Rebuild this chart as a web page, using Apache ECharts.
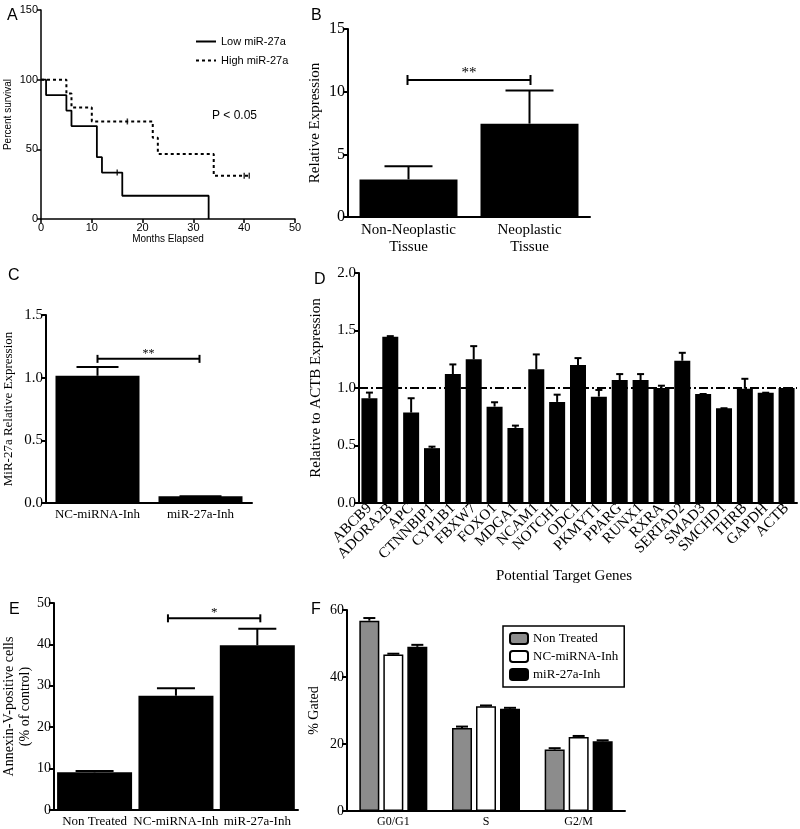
<!DOCTYPE html>
<html><head><meta charset="utf-8">
<script src="https://cdn.jsdelivr.net/npm/echarts@6/dist/echarts.min.js"></script>
<style>html,body{margin:0;padding:0;background:#fff}#c{width:800px;height:829px}</style>
</head><body><div id="c"></div>
<script>
// ---------- Panel A : survival ----------
const lowTimes = [0, 1, 5, 6, 11, 12, 16, 33];
const lowSurv = [100, 88.9, 77.8, 66.7, 44.4, 33.3, 16.7, 0];
const lowCensorTimes = [15];
const lowCensorSurv = [33.3];
const highTimes = [0, 5, 6, 10, 22, 23, 34, 41];
const highSurv = [100, 90, 80, 70, 58.3, 46.7, 31.1, 31.1];
const highCensorTimes = [17, 40, 41];
const highCensorSurv = [70, 31.1, 31.1];

// ---------- Panel B ----------
const bCats = ['Non-Neoplastic\nTissue', 'Neoplastic\nTissue'];
const bMeans = [3.0, 7.45];
const bErr = [1.05, 2.65];
const bSig = [0, 1, 10.93];

// ---------- Panel C ----------
const cCats = ['NC-miRNA-Inh', 'miR-27a-Inh'];
const cMeans = [1.015, 0.053];
const cErr = [0.07, 0];
const cSig = [0, 1, 1.15];

// ---------- Panel D ----------
const dCats = ['ABCB9','ADORA2B','APC','CTNNBIP1','CYP1B1','FBXW7','FOXO1','MDGA1','NCAM1','NOTCH1','ODC1','PKMYT1','PPARG','RUNX1','RXRA','SERTAD2','SMAD3','SMCHD1','THRB','GAPDH','ACTB'];
const dMeans = [0.91,1.445,0.786,0.477,1.121,1.249,0.838,0.653,1.162,0.879,1.20,0.925,1.069,1.069,1.0,1.237,0.948,0.824,0.994,0.959,1.0];
const dErr =   [0.05,0.006,0.125,0.013,0.084,0.115,0.038,0.02,0.13,0.063,0.06,0.058,0.052,0.052,0.02,0.069,0,0,0.086,0,0];
const dRef = 1.0;

// ---------- Panel E ----------
const eCats = ['Non Treated', 'NC-miRNA-Inh', 'miR-27a-Inh'];
const eMeans = [9.1, 27.6, 39.8];
const eErr = [0.3, 1.8, 4.0];
const eSig = [1, 2, 46.3];

// ---------- Panel F ----------
const fCats = ['G0/G1', 'S', 'G2/M'];
const fNames = ['Non Treated', 'NC-miRNA-Inh', 'miR-27a-Inh'];
const fNonTreated = [56.8, 24.8, 18.35];
const fNonTreatedErr = [0.8, 0.4, 0.4];
const fNC = [46.75, 31.3, 22.1];
const fNCErr = [0.2, 0.2, 0.3];
const fMiR = [49.0, 30.5, 20.8];
const fMiRErr = [0.6, 0.3, 0.3];

// ---------- helpers ----------
const SERIF = 'Liberation Serif';
const SANS = 'Liberation Sans';
const BLK = '#000';

function valAxis(g, min, max, interval, font, size, name, gap, fmt, lw, nameSize) {
  return {
    type: 'value', gridIndex: g, min: min, max: max, interval: interval,
    name: name, nameLocation: 'middle', nameGap: gap,
    nameTextStyle: { fontFamily: font, fontSize: nameSize || size, color: BLK, lineHeight: (nameSize || size) + 2 },
    axisLine: { show: true, lineStyle: { color: BLK, width: lw || 2 } },
    axisTick: { show: true, length: 5, lineStyle: { color: BLK, width: lw || 2 } },
    splitLine: { show: false },
    axisLabel: { fontFamily: font, fontSize: size, color: BLK, margin: 3, formatter: fmt }
  };
}
function catAxis(g, cats, font, size, extra) {
  return Object.assign({
    type: 'category', gridIndex: g, data: cats,
    axisLine: { show: true, lineStyle: { color: BLK, width: 2 } },
    axisTick: { show: false },
    axisLabel: { fontFamily: font, fontSize: size, color: BLK, margin: 4, interval: 0, lineHeight: size + 2 }
  }, extra || {});
}
function errSeries(g, means, errs, capW, offset) {
  return {
    type: 'custom', xAxisIndex: g, yAxisIndex: g, silent: true, z: 4,
    data: means.map((m, i) => [i, m, m + errs[i]]),
    renderItem: (p, api) => {
      const a = api.coord([api.value(0), api.value(1)]);
      const b = api.coord([api.value(0), api.value(2)]);
      const x = a[0] + offset;
      return { type: 'group', children: [
        { type: 'line', shape: { x1: x, y1: a[1], x2: x, y2: b[1] }, style: { stroke: BLK, lineWidth: 2 } },
        { type: 'line', shape: { x1: x - capW / 2, y1: b[1], x2: x + capW / 2, y2: b[1] }, style: { stroke: BLK, lineWidth: 2 } }
      ] };
    }
  };
}
function sigSeries(g, sig, text, tickH, size, dx0, dx1) {
  return {
    type: 'custom', xAxisIndex: g, yAxisIndex: g, silent: true, z: 5,
    data: [sig],
    renderItem: (p, api) => {
      const a = api.coord([api.value(0), api.value(2)]);
      const b = api.coord([api.value(1), api.value(2)]);
      const x0 = a[0] + dx0, x1 = b[0] + dx1, y = a[1];
      return { type: 'group', children: [
        { type: 'line', shape: { x1: x0, y1: y, x2: x1, y2: y }, style: { stroke: BLK, lineWidth: 2 } },
        { type: 'line', shape: { x1: x0, y1: y - tickH, x2: x0, y2: y + tickH }, style: { stroke: BLK, lineWidth: 2 } },
        { type: 'line', shape: { x1: x1, y1: y - tickH, x2: x1, y2: y + tickH }, style: { stroke: BLK, lineWidth: 2 } },
        { type: 'text', x: (x0 + x1) / 2, y: y + 1, style: { text: text, fill: BLK, font: size + 'px "Liberation Serif"', align: 'center', verticalAlign: 'bottom' } }
      ] };
    }
  };
}
function letter(t, x, y) {
  return { type: 'text', left: x, top: y, style: { text: t, fill: BLK, font: '16px "Liberation Sans"' } };
}

const chart = echarts.init(document.getElementById('c'), null, { renderer: 'canvas' });

const option = {
  animation: false,
  backgroundColor: '#fff',
  grid: [
    { left: 41, top: 10, width: 254, height: 209 },
    { left: 348, top: 29, width: 242, height: 188 },
    { left: 45, top: 315, width: 207, height: 188 },
    { left: 359, top: 273, width: 438, height: 230 },
    { left: 48, top: 603, width: 250, height: 207 },
    { left: 347, top: 610, width: 278, height: 201 }
  ],
  xAxis: [
    {
      type: 'value', gridIndex: 0, min: 0, max: 50, interval: 10,
      name: 'Months Elapsed', nameLocation: 'middle', nameGap: 15,
      nameTextStyle: { fontFamily: SANS, fontSize: 10, color: BLK },
      axisLine: { show: true, lineStyle: { color: BLK, width: 1.5 } },
      axisTick: { show: true, length: 4, lineStyle: { color: BLK, width: 1.5 } },
      splitLine: { show: false },
      axisLabel: { fontFamily: SANS, fontSize: 11, color: BLK, margin: 3 }
    },
    catAxis(1, bCats, SERIF, 15, { axisLabel: { fontFamily: SERIF, fontSize: 15, color: BLK, margin: 5, interval: 0, lineHeight: 17 } }),
    catAxis(2, cCats, SERIF, 13),
    catAxis(3, dCats, SERIF, 15, {
      name: 'Potential Target Genes', nameLocation: 'middle', nameGap: 66,
      nameTextStyle: { fontFamily: SERIF, fontSize: 15, color: BLK, padding: [0, 28, 0, 0] },
      axisLabel: { fontFamily: SERIF, fontSize: 15, color: BLK, margin: 3, interval: 0, rotate: 45 }
    }),
    catAxis(4, eCats, SERIF, 13),
    catAxis(5, fCats, SERIF, 12)
  ],
  yAxis: [
    Object.assign(valAxis(0, 0, 150, 50, SANS, 11, 'Percent survival', 28, null, 1.5), {
      nameTextStyle: { fontFamily: SANS, fontSize: 10, color: BLK },
      axisTick: { show: true, length: 4, lineStyle: { color: BLK, width: 1.5 } }
    }),
    valAxis(1, 0, 15, 5, SERIF, 16, 'Relative Expression', 24, null, 2, 15),
    valAxis(2, 0, 1.5, 0.5, SERIF, 15, 'MiR-27a Relative Expression', 30, v => v.toFixed(1), 2, 13),
    valAxis(3, 0, 2, 0.5, SERIF, 15, 'Relative to ACTB Expression', 34, v => v.toFixed(1)),
    valAxis(4, 0, 50, 10, SERIF, 14, 'Annexin-V-positive cells\n(% of control)', 16),
    valAxis(5, 0, 60, 20, SERIF, 14, '% Gated', 25)
  ],
  legend: [
    {
      data: ['Low miR-27a', 'High miR-27a'], orient: 'vertical', left: 190, top: 31,
      itemWidth: 20, itemHeight: 8, itemGap: 8,
      itemStyle: { color: 'rgba(0,0,0,0)', borderColor: 'rgba(0,0,0,0)', borderWidth: 0 },
      textStyle: { fontFamily: SANS, fontSize: 11, color: BLK }
    },
    {
      data: fNames, orient: 'vertical', left: 503, top: 626,
      itemWidth: 18, itemHeight: 11, itemGap: 5, padding: [6, 6, 6, 6],
      borderColor: BLK, borderWidth: 1.5,
      textStyle: { fontFamily: SERIF, fontSize: 13, color: BLK }
    }
  ],
  graphic: [
    letter('A', 7, 8), letter('B', 311, 8), letter('C', 8, 268),
    letter('D', 314, 272), letter('E', 9, 602), letter('F', 311, 602),
    { type: 'text', left: 212, top: 110, style: { text: 'P < 0.05', fill: BLK, font: '12px "Liberation Sans"' } }
  ],
  series: [
    // A
    { name: 'Low miR-27a', type: 'line', xAxisIndex: 0, yAxisIndex: 0, step: 'end', symbol: 'none',
      lineStyle: { color: BLK, width: 1.8, type: 'solid' }, itemStyle: { color: BLK },
      data: lowTimes.map((t, i) => [t, lowSurv[i]]) },
    { name: 'High miR-27a', type: 'line', xAxisIndex: 0, yAxisIndex: 0, step: 'end', symbol: 'none',
      lineStyle: { color: BLK, width: 2, type: [3, 3] }, itemStyle: { color: BLK },
      data: highTimes.map((t, i) => [t, highSurv[i]]) },
    { type: 'scatter', xAxisIndex: 0, yAxisIndex: 0, symbol: 'rect', symbolSize: [1.5, 6], itemStyle: { color: BLK }, silent: true,
      data: lowCensorTimes.map((t, i) => [t, lowCensorSurv[i]]) },
    { type: 'scatter', xAxisIndex: 0, yAxisIndex: 0, symbol: 'rect', symbolSize: [1.5, 6], itemStyle: { color: BLK }, silent: true,
      data: highCensorTimes.map((t, i) => [t, highCensorSurv[i]]) },
    // B
    { type: 'bar', xAxisIndex: 1, yAxisIndex: 1, barWidth: 98, itemStyle: { color: BLK }, data: bMeans },
    errSeries(1, bMeans, bErr, 48, 0),
    sigSeries(1, bSig, '**', 5, 15, -1, 1),
    // C
    { type: 'bar', xAxisIndex: 2, yAxisIndex: 2, barWidth: 84, itemStyle: { color: BLK }, data: cMeans },
    errSeries(2, cMeans, cErr, 42, 0),
    sigSeries(2, cSig, '**', 4, 12, 0, -1),
    // D
    { type: 'bar', xAxisIndex: 3, yAxisIndex: 3, barWidth: 16, itemStyle: { color: BLK }, data: dMeans,
      markLine: { silent: true, symbol: 'none', label: { show: false },
        lineStyle: { color: BLK, width: 2, type: [9, 3, 2, 3] }, data: [{ yAxis: dRef }] } },
    errSeries(3, dMeans, dErr, 7, 0),
    // E
    { type: 'bar', xAxisIndex: 4, yAxisIndex: 4, barWidth: 75, itemStyle: { color: BLK }, data: eMeans },
    errSeries(4, eMeans, eErr, 38, 0),
    sigSeries(4, eSig, '*', 4, 13, -8, 3),
    // F
    { name: fNames[0], type: 'bar', xAxisIndex: 5, yAxisIndex: 5, barWidth: 20, barGap: '20%',
      itemStyle: { color: '#8c8c8c', borderColor: BLK, borderWidth: 1.5 }, data: fNonTreated },
    { name: fNames[1], type: 'bar', xAxisIndex: 5, yAxisIndex: 5, barWidth: 20, barGap: '20%',
      itemStyle: { color: '#fff', borderColor: BLK, borderWidth: 1.5 }, data: fNC },
    { name: fNames[2], type: 'bar', xAxisIndex: 5, yAxisIndex: 5, barWidth: 20, barGap: '20%',
      itemStyle: { color: BLK, borderColor: BLK, borderWidth: 1.5 }, data: fMiR },
    errSeries(5, fNonTreated, fNonTreatedErr, 12, -24),
    errSeries(5, fNC, fNCErr, 12, 0),
    errSeries(5, fMiR, fMiRErr, 12, 24)
  ]
};
chart.setOption(option);
</script>
</body></html>
